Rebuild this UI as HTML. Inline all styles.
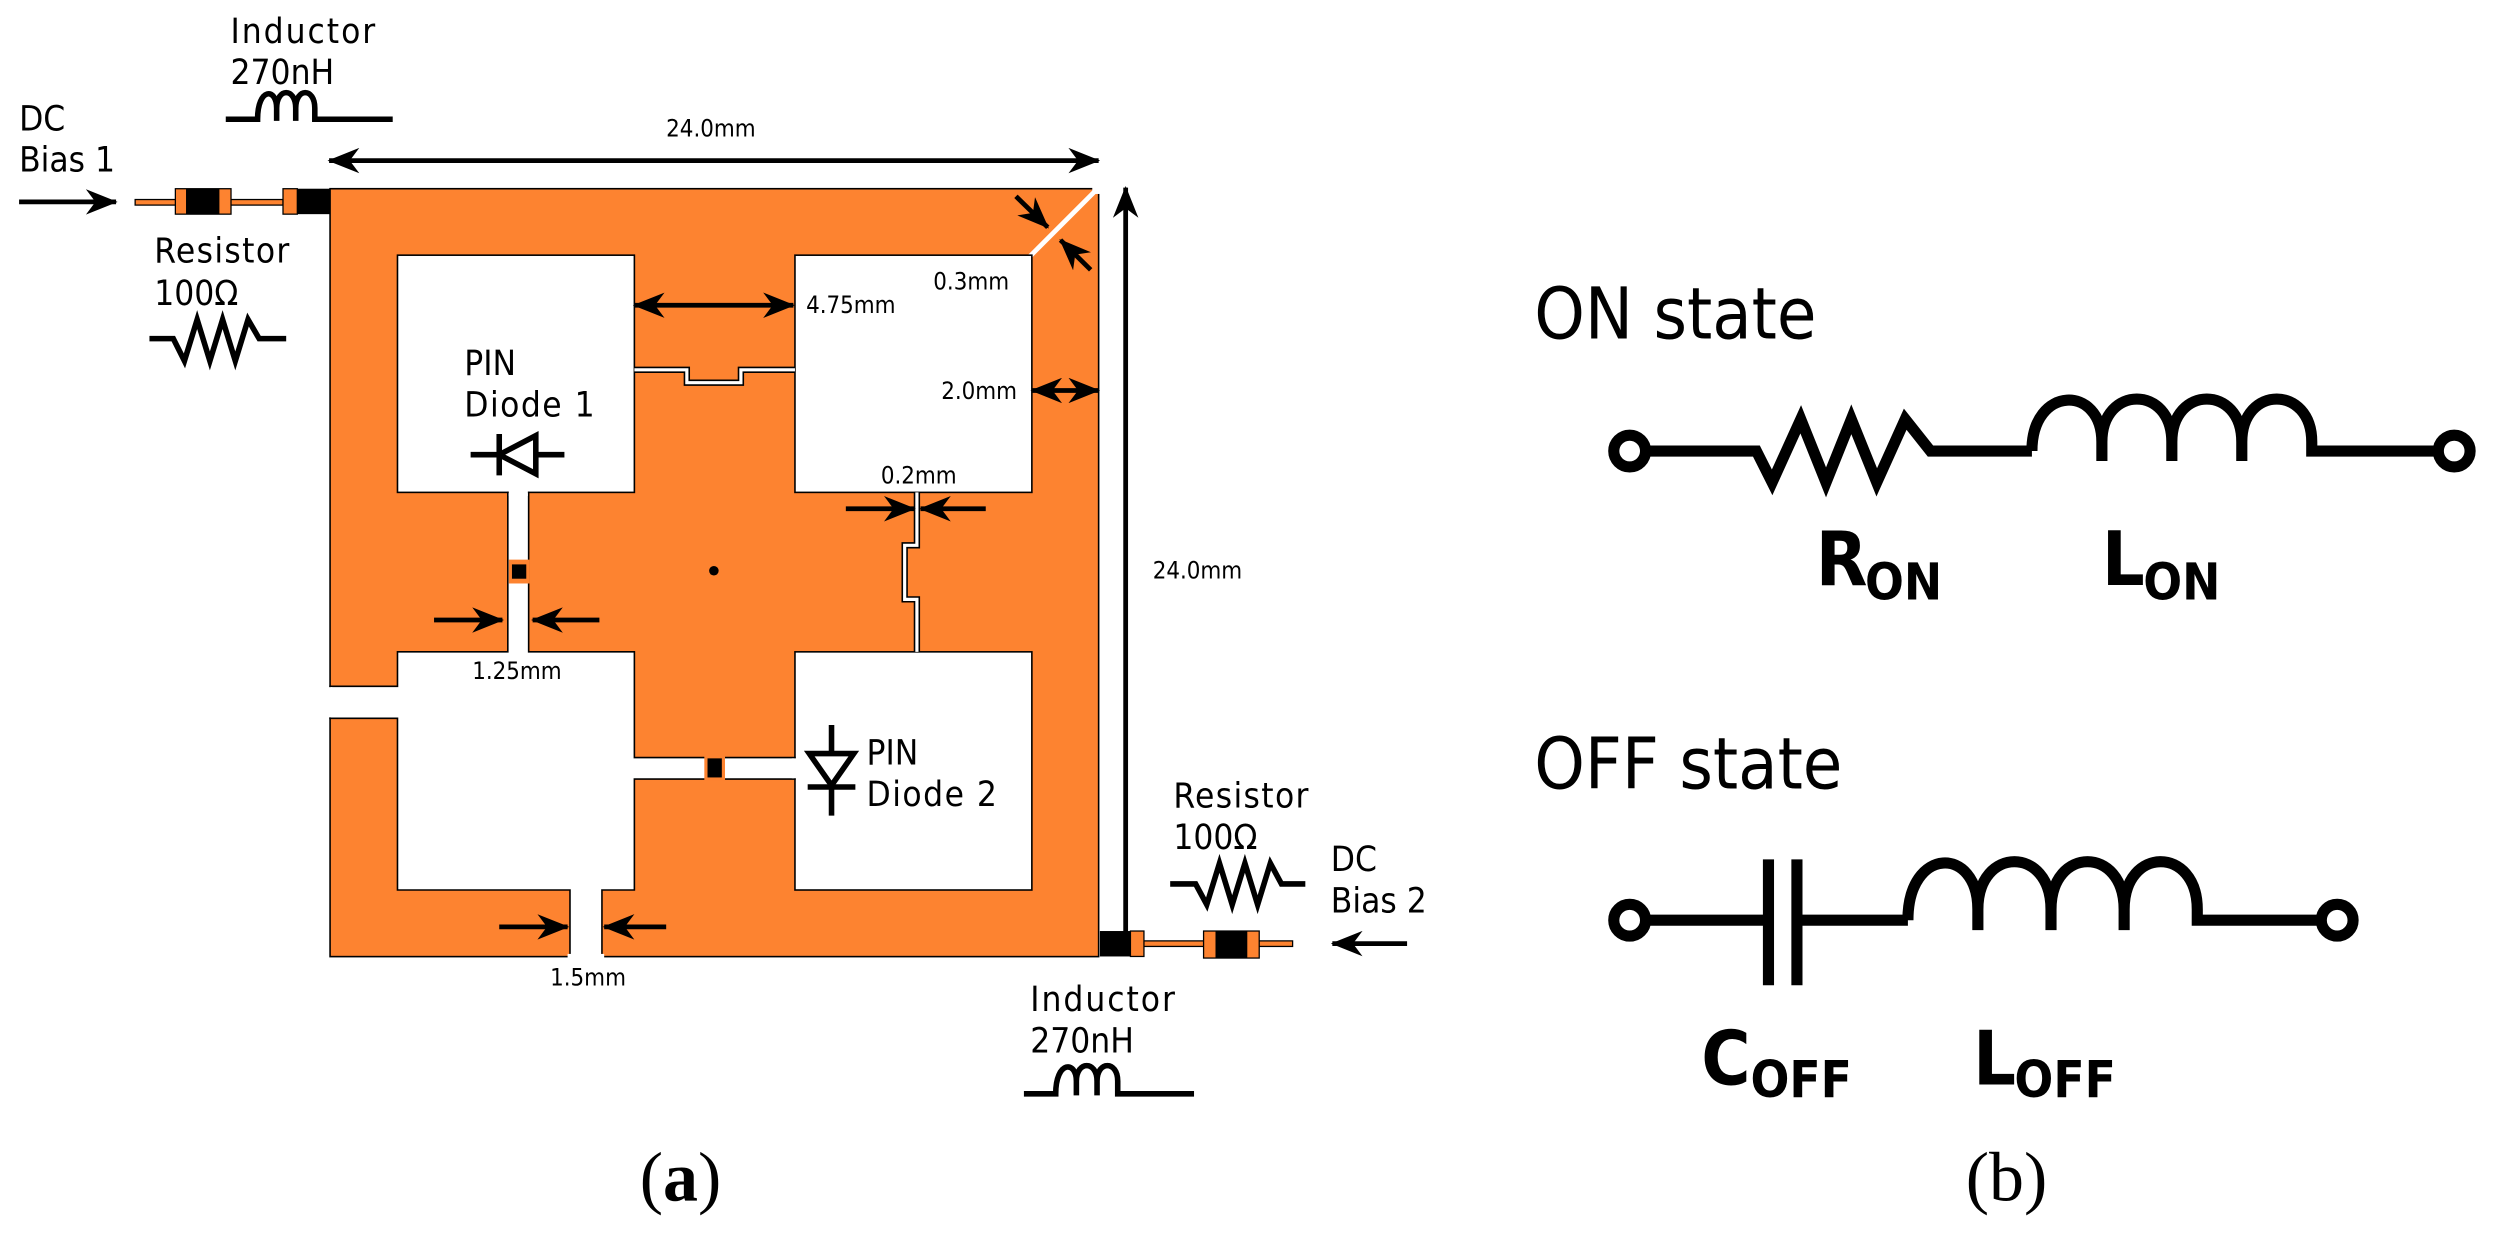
<!DOCTYPE html>
<html><head><meta charset="utf-8"><style>
html,body{margin:0;padding:0;background:#fff;}
svg{display:block;}
text{font-family:"DejaVu Sans Condensed","DejaVu Sans","Liberation Sans",sans-serif;fill:#000;}
.s{font-size:15px;}
.m{font-size:22px;}
.big{font-size:45px;}
.b{font-weight:bold;}
.ser{font-family:"Liberation Serif",serif;font-size:44px;}
</style></head><body>
<svg width="2493" height="1242" viewBox="0 0 1568 781.2" preserveAspectRatio="none" xmlns="http://www.w3.org/2000/svg">
<defs>
<marker id="ah" markerUnits="userSpaceOnUse" markerWidth="20" markerHeight="16" refX="19" refY="8" orient="auto">
<path d="M0,0 L20,8 L0,16 L6,8 Z" fill="#000"/>
</marker>
<marker id="as" markerUnits="userSpaceOnUse" markerWidth="20" markerHeight="16" refX="1" refY="8" orient="auto">
<path d="M20,0 L0,8 L20,16 L14,8 Z" fill="#000"/>
</marker>
</defs>

<rect x="207.6" y="118.7" width="483.4" height="483" fill="#fd8330" stroke="#000" stroke-width="1"/>
<line x1="691" y1="118" x2="647" y2="162" stroke="#fff" stroke-width="3"/>
<rect x="687" y="114" width="10" height="8" fill="#fff"/>
<g fill="#fff" stroke="#000" stroke-width="1">
<rect x="250" y="160.5" width="149" height="149.2"/>
<rect x="500" y="160.5" width="149" height="149.2"/>
<rect x="500" y="410" width="149" height="149.8"/>
<path d="M207.6,431.7 H250 V410 H319.4 V309.7 H332.5 V410 H399 V476.5 H500 V490 H399 V559.8 H378.6 V601.7 H358.5 V559.8 H250 V451.8 H207.6 Z"/>
</g>
<rect x="320" y="308" width="12" height="4" fill="#fff"/>
<rect x="498" y="477" width="4" height="12.5" fill="#fff"/>
<rect x="357" y="600" width="23" height="4" fill="#fff"/>
<rect x="204" y="432.2" width="5" height="19" fill="#fff"/>
<polyline points="399,232.6 432,232.6 432,240.7 466,240.7 466,232.6 500,232.6" fill="none" stroke="#000" stroke-width="4"/>
<polyline points="399,232.6 432,232.6 432,240.7 466,240.7 466,232.6 500,232.6" fill="none" stroke="#fff" stroke-width="2"/>
<polyline points="576.7,309.7 576.7,343 569,343 569,377 576.7,377 576.7,410" fill="none" stroke="#000" stroke-width="4"/>
<polyline points="576.7,309.7 576.7,343 569,343 569,377 576.7,377 576.7,410" fill="none" stroke="#fff" stroke-width="2"/>
<rect x="320" y="352" width="13" height="15" fill="#fd8330"/>
<rect x="322" y="355" width="9" height="9" fill="#000"/>
<rect x="443" y="475" width="13" height="16" fill="#fd8330"/>
<rect x="445" y="477" width="9" height="12" fill="#000"/>
<circle cx="449" cy="359" r="3" fill="#000"/>

<rect x="85" y="125.5" width="93" height="3.5" fill="#fd8330" stroke="#000" stroke-width="0.8"/>
<rect x="110.3" y="118.7" width="35" height="16" fill="#fd8330" stroke="#000" stroke-width="0.8"/>
<rect x="117" y="118.7" width="21" height="16" fill="#000"/>
<rect x="178" y="118.7" width="9" height="16" fill="#fd8330" stroke="#000" stroke-width="0.8"/>
<rect x="187" y="118.7" width="20.6" height="16" fill="#000"/>
<rect x="711" y="591.8" width="102" height="3.5" fill="#fd8330" stroke="#000" stroke-width="0.8"/>
<rect x="691.8" y="585.6" width="19.2" height="16" fill="#000"/>
<rect x="711" y="585.6" width="8.5" height="16" fill="#fd8330" stroke="#000" stroke-width="0.8"/>
<rect x="757" y="585.6" width="35" height="17" fill="#fd8330" stroke="#000" stroke-width="0.8"/>
<rect x="764.5" y="585.6" width="20" height="17" fill="#000"/>

<g stroke="#000" stroke-width="3" fill="none">
<line x1="12" y1="127" x2="73" y2="127" marker-end="url(#ah)"/>
<line x1="885" y1="593.5" x2="838" y2="593.5" marker-end="url(#ah)"/>
<line x1="207" y1="101" x2="691" y2="101" marker-start="url(#as)" marker-end="url(#ah)"/>
<line x1="708" y1="595" x2="708" y2="118" marker-end="url(#ah)"/>
<line x1="399" y1="192" x2="499" y2="192" marker-start="url(#as)" marker-end="url(#ah)"/>
<line x1="649" y1="245.6" x2="691" y2="245.6" marker-start="url(#as)" marker-end="url(#ah)"/>
<line x1="532" y1="320" x2="575" y2="320" marker-end="url(#ah)"/>
<line x1="620" y1="320" x2="579" y2="320" marker-end="url(#ah)"/>
<line x1="273" y1="390" x2="316" y2="390" marker-end="url(#ah)"/>
<line x1="377" y1="390" x2="335" y2="390" marker-end="url(#ah)"/>
<line x1="314" y1="583" x2="357" y2="583" marker-end="url(#ah)"/>
<line x1="419" y1="583" x2="380" y2="583" marker-end="url(#ah)"/>
<line x1="639" y1="123.5" x2="659" y2="143" marker-end="url(#ah)"/>
<line x1="686" y1="169.7" x2="667" y2="151" marker-end="url(#ah)"/>
</g>

<g stroke="#000" stroke-width="3.5" fill="none">
<path d="M142,75 H162 C162,55 174,55 174,68 V76 M174,68 C174,55 186,55 186,68 V76 M186,68 C186,55 198,55 198,68 V75 H247"/>
<path d="M644,688 H664 C664,667 677,667 677,680 V689 M677,680 C677,667 690,667 690,680 V689 M690,680 C690,667 703,667 703,680 V688 H751"/>
<polyline points="94,213 109,213 116,227 124,201 132,227 140,201 148,227 156,201 163,213 180,213"/>
<polyline points="736,556 752,556 759,569 767,543 775,569 783,543 791,569 799,543 806,556 821,556"/>
<line x1="296" y1="286" x2="355" y2="286"/>
<line x1="314" y1="273" x2="314" y2="299"/>
<path d="M314,286 L337,274 L337,298 Z" fill="#fff"/>
<line x1="523" y1="456" x2="523" y2="513"/>
<line x1="508" y1="495" x2="538" y2="495"/>
<path d="M509,474 L537,474 L523,494 Z" fill="#fff"/>
</g>

<text class="m" x="145" y="27" textLength="91">Inductor</text>
<text class="m" x="145" y="53">270nH</text>
<text class="m" x="12" y="82">DC</text>
<text class="m" x="12" y="108">Bias 1</text>
<text class="m" x="97" y="165" textLength="85">Resistor</text>
<text class="m" x="97" y="192">100Ω</text>
<text class="s" x="419" y="86">24.0mm</text>
<text class="s" x="587" y="182">0.3mm</text>
<text class="s" x="507" y="197">4.75mm</text>
<text class="s" x="592" y="251">2.0mm</text>
<text class="s" x="554" y="304">0.2mm</text>
<text class="s" x="725" y="364">24.0mm</text>
<text class="m" x="292" y="236">PIN</text>
<text class="m" x="292" y="262" textLength="82">Diode 1</text>
<text class="s" x="297" y="427">1.25mm</text>
<text class="m" x="545" y="481">PIN</text>
<text class="m" x="545" y="507" textLength="82">Diode 2</text>
<text class="s" x="346" y="620">1.5mm</text>
<text class="m" x="738" y="508" textLength="85">Resistor</text>
<text class="m" x="738" y="534">100Ω</text>
<text class="m" x="837" y="548">DC</text>
<text class="m" x="837" y="574">Bias 2</text>
<text class="m" x="648" y="636" textLength="91">Inductor</text>
<text class="m" x="648" y="662">270nH</text>
<text class="ser" x="428" y="755" text-anchor="middle">(<tspan font-weight="bold">a</tspan>)</text>
<text class="ser" x="1262" y="755" text-anchor="middle">(b)</text>

<text class="big" x="965" y="213">ON state</text>
<text class="big" x="965" y="496">OFF state</text>
<g stroke="#000" stroke-width="7" fill="none" stroke-linejoin="miter">
<circle cx="1025" cy="283.7" r="10" fill="#fff"/>
<circle cx="1543.6" cy="283.7" r="10" fill="#fff"/>
<polyline points="1035,283.7 1104.7,283.7 1114.6,303.4 1132.6,263.7 1148.5,303.4 1164.4,263.7 1180.4,303.4 1198.3,263.7 1214.2,283.7 1278,283.7"/>
<path d="M1278,283.7 C1278,242 1322,242 1322,278 V290 M1322,278 C1322,242 1366,242 1366,278 V290 M1366,278 C1366,242 1410,242 1410,278 V290 M1410,278 C1410,242 1454,242 1454,278 V283.7 H1533.6"/>
<circle cx="1025" cy="578.8" r="10" fill="#fff"/>
<circle cx="1470" cy="578.8" r="10" fill="#fff"/>
<line x1="1035" y1="578.8" x2="1112" y2="578.8"/>
<line x1="1112.3" y1="540.5" x2="1112.3" y2="619.7"/>
<line x1="1130.2" y1="540.5" x2="1130.2" y2="619.7"/>
<line x1="1130" y1="578.8" x2="1200" y2="578.8"/>
<path d="M1200,578.8 C1200,532 1244,532 1244,572 V585 M1244,572 C1244,532 1290,532 1290,572 V585 M1290,572 C1290,532 1336,532 1336,572 V585 M1336,572 C1336,532 1382,532 1382,572 V578.8 H1460"/>
</g>
<text class="b" x="1142" y="368" font-size="47">R</text>
<text class="b" x="1173" y="377" font-size="32">ON</text>
<text class="b" x="1322" y="368" font-size="47">L</text>
<text class="b" x="1348" y="377" font-size="32">ON</text>
<text class="b" x="1070" y="682" font-size="47">C</text>
<text class="b" x="1101" y="690" font-size="32">OFF</text>
<text class="b" x="1241" y="682" font-size="47">L</text>
<text class="b" x="1267" y="690" font-size="32">OFF</text>
</svg>
</body></html>
